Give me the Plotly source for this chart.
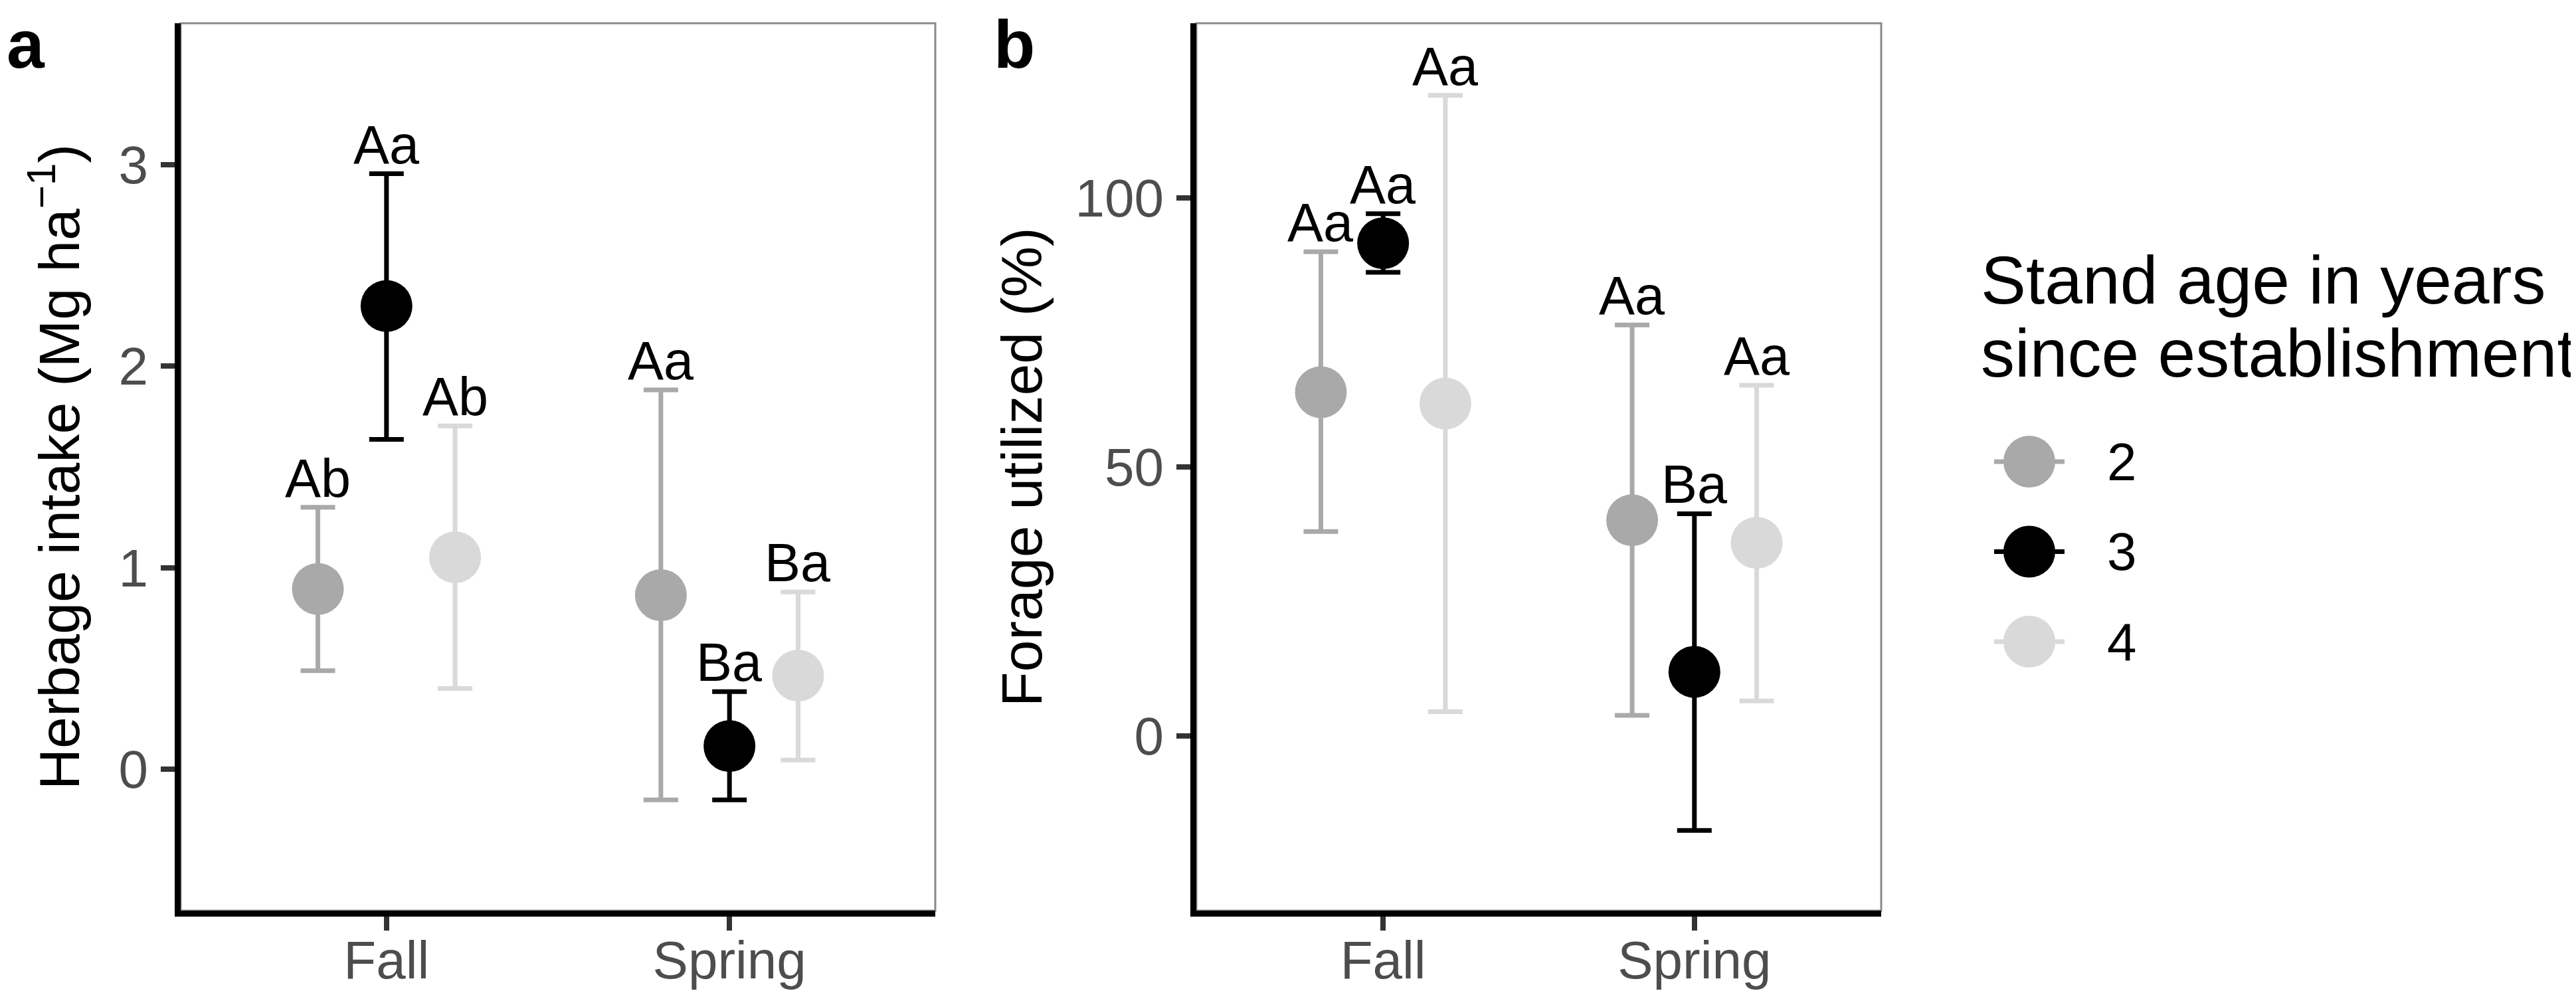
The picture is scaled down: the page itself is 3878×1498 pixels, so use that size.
import plotly.graph_objects as go

W, H = 3878, 1498
FONT = "Liberation Sans, Arial, sans-serif"

# ---------------- data ----------------
seasons = ["Fall", "Spring"]
ages = ["2", "3", "4"]
age_colors = ["#A9A9A9", "#000000", "#D9D9D9"]

# Panel a: Herbage intake (Mg ha-1), one list per stand age (Fall, Spring)
intake_mean_2 = [0.895, 0.864]
intake_mean_3 = [2.298, 0.116]
intake_mean_4 = [1.052, 0.465]
intake_low_2 = [0.490, -0.151]
intake_low_3 = [1.637, -0.151]
intake_low_4 = [0.402, 0.047]
intake_high_2 = [1.300, 1.882]
intake_high_3 = [2.954, 0.386]
intake_high_4 = [1.703, 0.880]
intake_letters_2 = ["Ab", "Aa"]
intake_letters_3 = ["Aa", "Ba"]
intake_letters_4 = ["Ab", "Ba"]

# Panel b: Forage utilized (%)
forage_mean_2 = [63.9, 40.1]
forage_mean_3 = [91.6, 11.9]
forage_mean_4 = [61.8, 35.9]
forage_low_2 = [38.0, 3.8]
forage_low_3 = [86.2, -17.6]
forage_low_4 = [4.5, 6.5]
forage_high_2 = [90.0, 76.4]
forage_high_3 = [97.1, 41.3]
forage_high_4 = [119.1, 65.2]
forage_letters_2 = ["Aa", "Aa"]
forage_letters_3 = ["Aa", "Ba"]
forage_letters_4 = ["Aa", "Aa"]

intake_ticks = [0, 1, 2, 3]
forage_ticks = [0, 50, 100]

panels = [
    dict(mean=[intake_mean_2, intake_mean_3, intake_mean_4],
         low=[intake_low_2, intake_low_3, intake_low_4],
         high=[intake_high_2, intake_high_3, intake_high_4],
         letters=[intake_letters_2, intake_letters_3, intake_letters_4],
         xa="x", ya="y"),
    dict(mean=[forage_mean_2, forage_mean_3, forage_mean_4],
         low=[forage_low_2, forage_low_3, forage_low_4],
         high=[forage_high_2, forage_high_3, forage_high_4],
         letters=[forage_letters_2, forage_letters_3, forage_letters_4],
         xa="x2", ya="y2"),
]

DODGE = 0.2
MSIZE = 78
EB_W = 7
CAP = 26

fig = go.Figure()
annotations = []

for p in panels:
    for i, age in enumerate(ages):
        xs = [k + 1 + (i - 1) * DODGE for k in range(len(seasons))]
        m, lo, hi = p["mean"][i], p["low"][i], p["high"][i]
        fig.add_trace(go.Scatter(
            x=xs, y=m, mode="markers", xaxis=p["xa"], yaxis=p["ya"],
            marker=dict(size=MSIZE, color=age_colors[i], line=dict(width=0)),
            error_y=dict(type="data", symmetric=False,
                         array=[h - v for h, v in zip(hi, m)],
                         arrayminus=[v - l for v, l in zip(m, lo)],
                         color=age_colors[i], thickness=EB_W, width=CAP),
            showlegend=False, hoverinfo="skip"))
        for xv, hv, lab in zip(xs, hi, p["letters"][i]):
            annotations.append(dict(
                x=xv, y=hv, xref=p["xa"], yref=p["ya"], text=lab,
                showarrow=False, xanchor="center", yanchor="bottom", yshift=-3,
                font=dict(family=FONT, size=81, color="black")))

# ---------------- legend drawn on a hidden subplot ----------------
for i, age in enumerate(ages):
    fig.add_trace(go.Scatter(
        x=[-1, 1], y=[i, i], mode="lines", xaxis="x3", yaxis="y3",
        line=dict(color=age_colors[i], width=EB_W),
        showlegend=False, hoverinfo="skip"))
    fig.add_trace(go.Scatter(
        x=[0], y=[i], mode="markers", xaxis="x3", yaxis="y3",
        marker=dict(size=MSIZE, color=age_colors[i], line=dict(width=0)),
        showlegend=False, hoverinfo="skip"))
    annotations.append(dict(
        x=3162 / W, y=i, xref="paper", yref="y3", text=age, showarrow=False,
        xanchor="left", yanchor="middle",
        font=dict(family=FONT, size=80, color="black")))

annotations.append(dict(x=2972 / W, y=1 - 414 / H, xref="paper", yref="paper",
                        text="Stand age in years", showarrow=False,
                        xanchor="left", yanchor="middle",
                        font=dict(family=FONT, size=102, color="black")))
annotations.append(dict(x=2972 / W, y=1 - 524 / H, xref="paper", yref="paper",
                        text="since establishment", showarrow=False,
                        xanchor="left", yanchor="middle",
                        font=dict(family=FONT, size=102, color="black")))

# axis titles
annotations.append(dict(x=75 / W, y=1 - 695 / H, xref="paper", yref="paper",
                        text="Herbage intake (Mg ha<sup>−1</sup>)", textangle=-90,
                        showarrow=False, xanchor="center", yanchor="middle",
                        font=dict(family=FONT, size=86, color="black")))
annotations.append(dict(x=1530 / W, y=1 - 695 / H, xref="paper", yref="paper",
                        text="Forage utilized (%)", textangle=-90,
                        showarrow=False, xanchor="center", yanchor="middle",
                        font=dict(family=FONT, size=86, color="black")))

# panel tags
annotations.append(dict(x=0, y=1, xref="paper", yref="paper",
                        text="<b>a</b>", showarrow=False, xanchor="left", yanchor="top",
                        font=dict(family=FONT, size=102, color="black")))
annotations.append(dict(x=1486 / W, y=1, xref="paper", yref="paper",
                        text="<b>b</b>", showarrow=False, xanchor="left", yanchor="top",
                        font=dict(family=FONT, size=102, color="black")))

y_dom = [1 - 1363 / H, 1 - 27 / H]
tickfont = dict(family=FONT, size=80, color="#4D4D4D")
common = dict(showline=True, linecolor="black", linewidth=9, ticks="outside",
              ticklen=21, tickwidth=8, tickcolor="#333333", tickfont=tickfont,
              showgrid=False, zeroline=False, fixedrange=True)

fig.update_layout(
    width=W, height=H, margin=dict(l=0, r=0, t=0, b=0),
    paper_bgcolor="white", plot_bgcolor="white",
    xaxis=dict(domain=[264 / W, 1400 / W], range=[0.4, 2.6], tickvals=[1, 2],
               ticktext=seasons, anchor="y", ticklabelstandoff=-24, **common),
    yaxis=dict(domain=y_dom, range=[-0.7, 3.7], tickvals=intake_ticks,
               anchor="x", ticklabelstandoff=3, **common),
    xaxis2=dict(domain=[1793 / W, 2824 / W], range=[0.4, 2.6], tickvals=[1, 2],
                ticktext=seasons, anchor="y2", ticklabelstandoff=-24, **common),
    yaxis2=dict(domain=y_dom, range=[-32.5, 132.5], tickvals=forage_ticks,
                anchor="x2", ticklabelstandoff=3, **common),
    xaxis3=dict(domain=[2994 / W, 3100 / W], range=[-1, 1], visible=False,
                anchor="y3", fixedrange=True),
    yaxis3=dict(domain=[1 - 1025.75 / H, 1 - 619.25 / H], range=[2.5, -0.5],
                visible=False, anchor="x3", fixedrange=True),
    annotations=annotations,
    shapes=[
        dict(type="rect", xref="x domain", yref="y domain", x0=0, x1=1, y0=0, y1=1,
             line=dict(color="#8A8A8A", width=3), layer="below"),
        dict(type="rect", xref="x2 domain", yref="y2 domain", x0=0, x1=1, y0=0, y1=1,
             line=dict(color="#8A8A8A", width=3), layer="below"),
    ],
    showlegend=False,
)

fig.write_html("out.html")
